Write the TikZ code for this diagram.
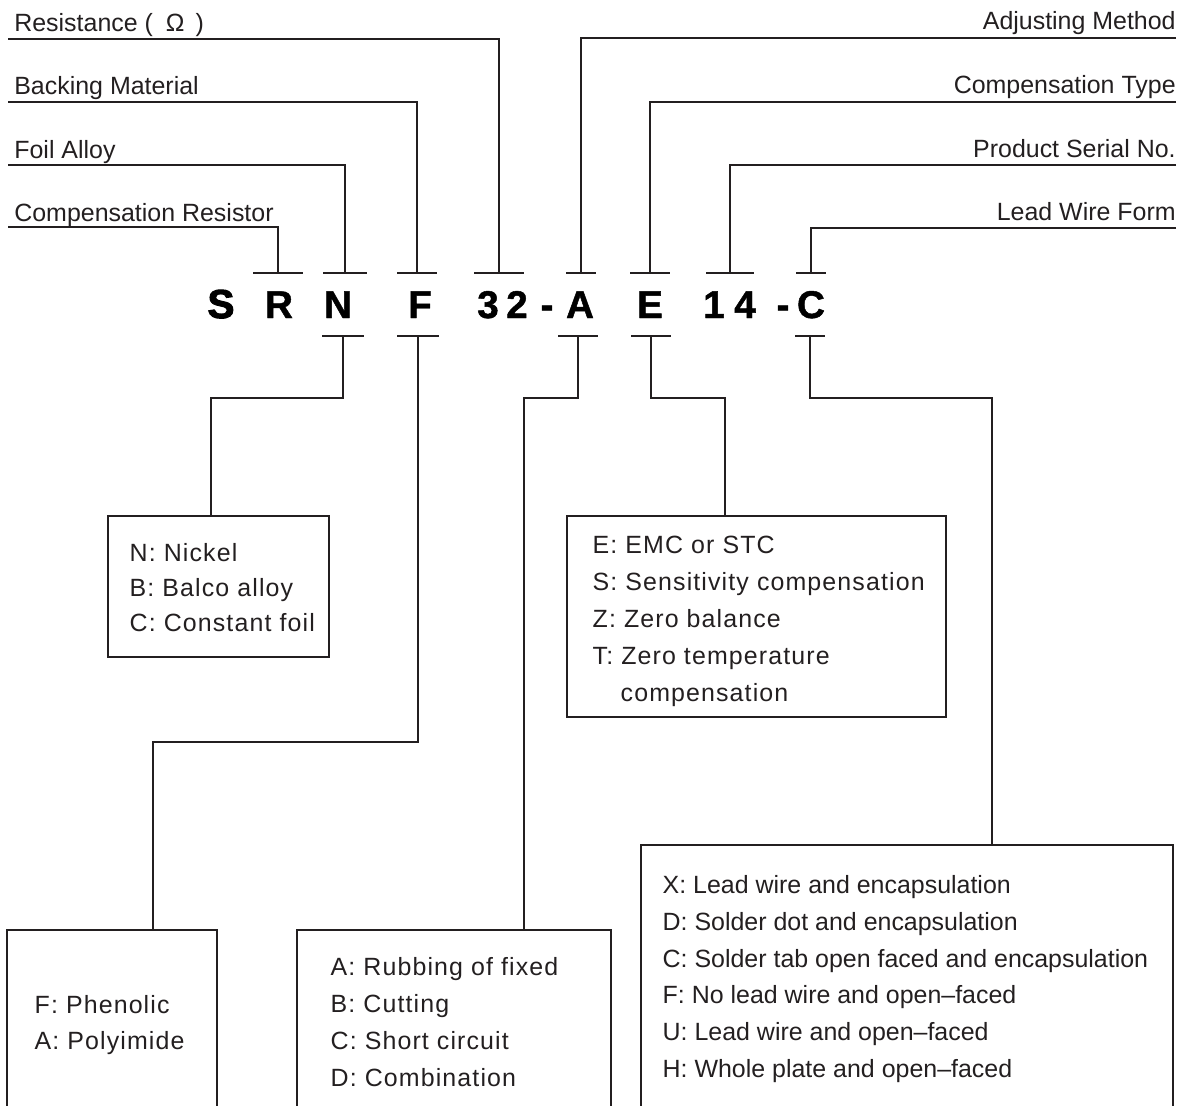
\documentclass[tikz,border=0pt]{standalone}
\usepackage{fontspec}
\setmainfont{Liberation Sans}
\usetikzlibrary{calc}
\definecolor{inkgray}{HTML}{231F20}

\begin{document}
\begin{tikzpicture}[x=0.02cm, y=-0.02cm,
    leader/.style={draw=inkgray, line width=0.7pt},
    fieldname/.style={inner sep=0pt, text=inkgray, font=\fontsize{14.2}{17}\selectfont},
    codechar/.style={inner sep=0pt, anchor=base, text=black,
                     font=\fontsize{22}{24}\selectfont\bfseries\addfontfeature{FakeBold=1.2}},
    keybox/.style 2 args={draw=inkgray, line width=0.8pt, minimum width=#1, minimum height=#2, inner sep=0pt},
    keytext/.style={inner sep=0pt, anchor=west, align=left, text=inkgray,
                    font=\fontsize{14.2}{21}\selectfont\addfontfeature{LetterSpace=4.5}},
]
    \useasboundingbox (0,0) rectangle (1184,1106);

    % the part number
    \node[codechar, font=\fontsize{23}{24}\selectfont\bfseries\addfontfeature{FakeBold=2.6}] (cS) at (221,318) {S};
    \foreach \name/\x/\ch in {cR/279/R, cN/338/N, cF/420/F, c3/488/3, c2/517/2, cDa/547/-,
                               cA/580/A, cE/650/E, c1/714/1, c4/745/4, cDb/783/-, cC/811/C}
        \node[codechar] (\name) at (\x,318) {\ch};

    % ticks above and below the code
    \foreach \name/\x/\w in {tR/278/25, tN/345/22, tF/417/20, t32/499/25,
                             tA/581/15, tE/650/20, t14/730/24, tC/811/15}
    {
        \coordinate (\name) at (\x,273);
        \draw[leader] ($(\name)+(-\w,0)$) -- ($(\name)+(\w,0)$);
    }
    \foreach \name/\x/\w in {bN/343/21, bF/418/21, bA/578/20, bE/651/20, bC/810/15}
    {
        \coordinate (\name) at (\x,336);
        \draw[leader] ($(\name)+(-\w,0)$) -- ($(\name)+(\w,0)$);
    }

    % field names
    \node[fieldname, anchor=base west] (fRes)  at (14,31)  {Resistance (\hspace{0.26cm}Ω\hspace{0.22cm})};
    \node[fieldname, anchor=base west] (fBack) at (14,94)  {Backing Material};
    \node[fieldname, anchor=base west] (fFoil) at (14,158) {Foil Alloy};
    \node[fieldname, anchor=base west] (fComp) at (14,221) {Compensation Resistor};
    \node[fieldname, anchor=base east] (fAdj)  at (1176,29)  {Adjusting Method};
    \node[fieldname, anchor=base east] (fType) at (1176,93)  {Compensation Type};
    \node[fieldname, anchor=base east] (fSer)  at (1176,157) {Product Serial No.};
    \node[fieldname, anchor=base east] (fLead) at (1176,220) {Lead Wire Form};

    \draw[leader] ($(fRes.base west)+(-6,8)$)  -| (t32);
    \draw[leader] ($(fBack.base west)+(-6,8)$) -| (tF);
    \draw[leader] ($(fFoil.base west)+(-6,7)$) -| (tN);
    \draw[leader] ($(fComp.base west)+(-6,6)$) -| (tR);
    \draw[leader] ($(fAdj.base east)+(0,9)$)  -| (tA);
    \draw[leader] ($(fType.base east)+(0,9)$) -| (tE);
    \draw[leader] ($(fSer.base east)+(0,8)$)  -| (t14);
    \draw[leader] ($(fLead.base east)+(0,8)$) -| (tC);

    % option boxes
    \node[keybox={4.42cm}{2.82cm}] (boxN) at (218.5,586.5) {};
    \node[keytext, font=\fontsize{14.2}{19.9}\selectfont\addfontfeature{LetterSpace=4.5}] (txtN)
        at ($(boxN.west)+(22,1)$) {N: Nickel\\B: Balco alloy\\C: Constant foil};

    \node[keybox={7.58cm}{4.02cm}] (boxE) at (756.5,616.5) {};
    \node[keytext] (txtE) at ($(boxE.west)+(26,5)$)
        {E: EMC or STC\\S: Sensitivity compensation\\Z: Zero balance\\T: Zero temperature\\\hspace*{0.56cm}compensation};

    \node[keybox={4.2cm}{3.72cm}] (boxF) at (112,1023) {};
    \node[keytext] (txtF) at ($(boxF.west)+(28,2)$) {F: Phenolic\\A: Polyimide};

    \node[keybox={6.28cm}{3.68cm}] (boxA) at (454,1022) {};
    \node[keytext] (txtA) at ($(boxA.west)+(34,0)$)
        {A: Rubbing of fixed\\B: Cutting\\C: Short circuit\\D: Combination};

    \node[keybox={10.64cm}{5.28cm}] (boxC) at (907,977) {};
    \node[keytext, font=\fontsize{14.2}{21}\selectfont] (txtC) at ($(boxC.west)+(22,2)$)
        {X: Lead wire and encapsulation\\D: Solder dot and encapsulation\\C: Solder tab open faced and encapsulation\\
         F: No lead wire and open--faced\\U: Lead wire and open--faced\\H: Whole plate and open--faced};

    % connectors down to the boxes
    \coordinate (kN) at (211,398);
    \coordinate (kF) at (153,742);
    \coordinate (kA) at (524,398);
    \coordinate (kE) at (725,398);
    \coordinate (kC) at (992,398);
    \draw[leader] (bN) |- (kN) -- (kN |- boxN.north);
    \draw[leader] (bF) |- (kF) -- (kF |- boxF.north);
    \draw[leader] (bA) |- (kA) -- (kA |- boxA.north);
    \draw[leader] (bE) |- (kE) -- (kE |- boxE.north);
    \draw[leader] (bC) |- (kC) -- (kC |- boxC.north);
\end{tikzpicture}
\end{document}
